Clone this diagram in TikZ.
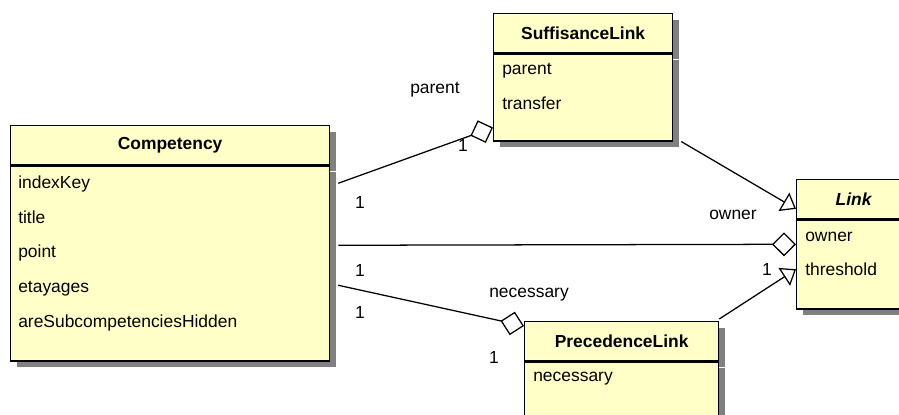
\documentclass[tikz,border=0pt]{standalone}
\usepackage{fontspec}
\setmainfont{Liberation Sans}
\usepackage{tikz}
\usepackage{xcolor}
\usetikzlibrary{arrows.meta, positioning, shadows}
\definecolor{clsfill}{RGB}{255,255,200}
\newcommand{\umlsize}{\fontsize{12.4}{15}\selectfont}

\begin{document}
\begin{tikzpicture}[
  every node/.style = {font=\umlsize},
  hd/.style = {draw, fill=clsfill, line width=0.9pt, anchor=north west, inner sep=0pt, minimum height=0.975cm, font=\umlsize\bfseries, drop shadow={shadow xshift=0.16cm, shadow yshift=-0.16cm, fill=black!50, opacity=1}},
  bd/.style = {draw, fill=clsfill, line width=0.9pt, anchor=north west, inner sep=0pt, drop shadow={shadow xshift=0.16cm, shadow yshift=-0.16cm, fill=black!50, opacity=1}},
  att/.style = {anchor=base west, inner sep=0pt},
  mult/.style = {inner sep=0pt},
  agg/.style = {line width=0.9pt, -{Diamond[open, length=0.6cm, width=0.6cm]}},
  gen/.style = {line width=0.9pt, -{Triangle[open, length=0.35cm, width=0.53cm]}}
]
  \useasboundingbox (0,0) rectangle (22.475,10.35);

  % Competency
  \node[hd, minimum width=7.975cm] (cmp) at (0.25,7.225) {Competency};
  \node[bd, minimum width=7.975cm, minimum height=4.875cm] (cmpb) at (cmp.south west) {};
  \node[att] (cmp1) at ([xshift=0.2cm, yshift=-0.575cm]cmpb.north west) {indexKey};
  \node[att] (cmp2) at ([xshift=0.2cm, yshift=-1.445cm]cmpb.north west) {title};
  \node[att] (cmp3) at ([xshift=0.2cm, yshift=-2.315cm]cmpb.north west) {point};
  \node[att] (cmp4) at ([xshift=0.2cm, yshift=-3.185cm]cmpb.north west) {etayages};
  \node[att] (cmp5) at ([xshift=0.2cm, yshift=-4.055cm]cmpb.north west) {areSubcompetenciesHidden};

  % SuffisanceLink
  \node[hd, minimum width=4.475cm] (suf) at (12.325,10.025) {SuffisanceLink};
  \node[bd, minimum width=4.475cm, minimum height=2.175cm] (sufb) at (suf.south west) {};
  \node[att] (suf1) at ([xshift=0.225cm, yshift=-0.53cm]sufb.north west) {parent};
  \node[att] (suf2) at ([xshift=0.225cm, yshift=-1.4cm]sufb.north west) {transfer};

  % Link
  \node[hd, minimum width=2.85cm] (lnk) at (19.9,5.875) {\itshape Link};
  \node[bd, minimum width=2.85cm, minimum height=2.225cm] (lnkb) at (lnk.south west) {};
  \node[att] (lnk1) at ([xshift=0.225cm, yshift=-0.55cm]lnkb.north west) {owner};
  \node[att] (lnk2) at ([xshift=0.225cm, yshift=-1.4cm]lnkb.north west) {threshold};

  % PrecedenceLink
  \node[hd, minimum width=4.85cm] (prc) at (13.1,2.325) {PrecedenceLink};
  \node[bd, minimum width=4.85cm, minimum height=1.4cm] (prcb) at (prc.south west) {};
  \node[att] (prc1) at ([xshift=0.225cm, yshift=-0.5cm]prcb.north west) {necessary};

  % associations
  \draw[agg] ([xshift=0.2cm, yshift=-0.45cm]cmpb.north east) -- ([yshift=0.35cm]sufb.south west);
  \draw[agg] ([xshift=0.2cm, yshift=-2cm]cmpb.north east) -- ([yshift=-0.625cm]lnkb.north west);
  \draw[agg] ([xshift=0.2cm, yshift=-3cm]cmpb.north east) -- ([yshift=-0.125cm]prc.north west);

  % generalizations
  \draw[gen] ([xshift=0.2cm]sufb.south east) -- ([yshift=0.26cm]lnk.south west);
  \draw[gen] ([yshift=0.05cm]prc.north east) -- ([yshift=-1.25cm]lnkb.north west);

  % role names and multiplicities
  \node[mult] (rpar) at (10.875,8.1) {parent};
  \node[mult] (mpar) at (11.575,6.7) {1};
  \node[mult] (mc1) at (9.0,5.275) {1};
  \node[mult] (rown) at (18.325,4.975) {owner};
  \node[mult] (mc2) at (9.0,3.575) {1};
  \node[mult] (mc3) at (9.0,2.525) {1};
  \node[mult] (rnec) at (13.225,2.975) {necessary};
  \node[mult] (mnec) at (12.35,1.4) {1};
  \node[mult] (mlnk) at (19.175,3.6) {1};
\end{tikzpicture}
\end{document}
